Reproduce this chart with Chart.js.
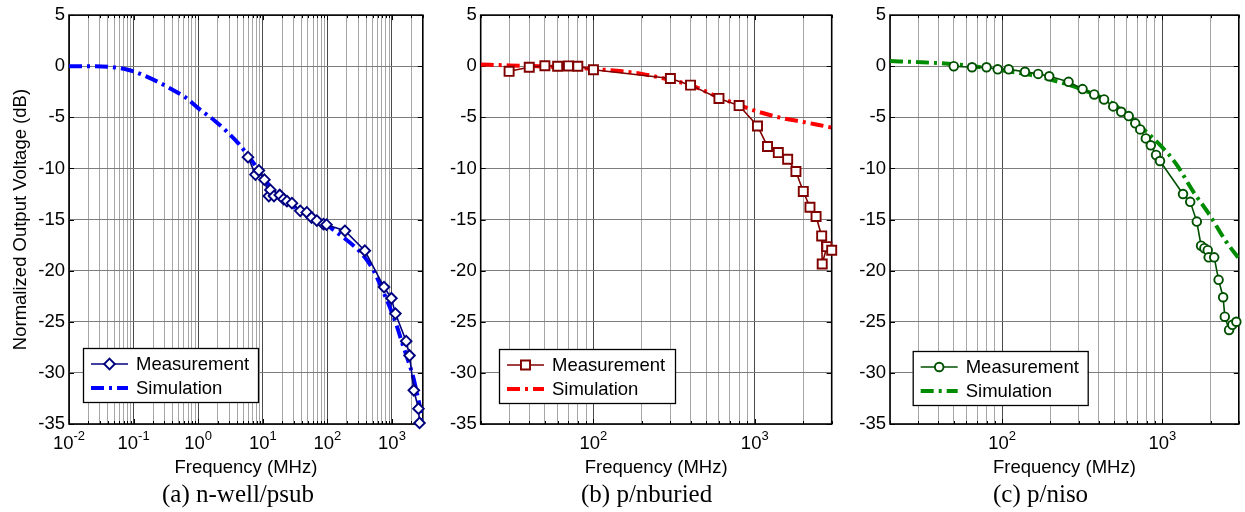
<!DOCTYPE html>
<html>
<head>
<meta charset="utf-8">
<script src="https://cdn.jsdelivr.net/npm/chart.js@4.4.1/dist/chart.umd.min.js"></script>
<style>
  html, body { margin:0; padding:0; background:#fff; }
  body { width:1245px; height:512px; position:relative; overflow:hidden; }
  canvas { position:absolute; top:0; }
  .cap { position:absolute; top:479px; font-family:"Liberation Serif","Times New Roman",serif; font-size:25px; line-height:29px; color:#000; white-space:nowrap; }
</style>
</head>
<body>
<canvas id="ca" width="430" height="512" style="left:0px"></canvas>
<canvas id="cb" width="410" height="512" style="left:430px"></canvas>
<canvas id="cc" width="405" height="512" style="left:840px"></canvas>
<div class="cap" style="left:162px">(a) n-well/psub</div>
<div class="cap" style="left:581px">(b) p/nburied</div>
<div class="cap" style="left:993px">(c) p/niso</div>
<script>
// ---------------- data ----------------
// (a) n-well/psub
const freqA = [5.9, 7.7, 8.7, 10.6, 12.4, 13.1, 14.9, 18.3, 21, 23.7, 28.3, 38, 48, 57, 68.6, 87, 97, 187, 380, 753, 980, 1130, 1660, 1870, 2180, 2570, 2670];
const measA = [-8.9, -10.6, -10.2, -11.1, -12.7, -12.1, -12.7, -12.6, -13.0, -13.2, -13.4, -14.15, -14.3, -14.8, -15.1, -15.45, -15.5, -16.1, -18.05, -21.6, -22.7, -24.2, -26.9, -28.3, -31.7, -33.5, -34.9];
const simFreqA = [0.01, 0.02, 0.04, 0.07, 0.1, 0.15, 0.25, 0.4, 0.65, 1, 1.86, 3, 4.26, 6, 8.7, 12, 15.7, 25, 35.5, 60, 91, 150, 190, 270, 380, 520, 680, 970, 1200, 1460, 1800, 2130, 2400, 2700, 3000];
const simA = [0, 0, -0.05, -0.25, -0.5, -0.95, -1.6, -2.3, -3.1, -4.1, -5.4, -6.6, -7.6, -8.8, -10.2, -11.5, -12.5, -13.4, -14.0, -14.8, -15.4, -16.4, -16.9, -17.7, -18.7, -20.0, -21.6, -23.9, -25.5, -27.2, -28.9, -30.4, -31.8, -33.3, -35.0];

// (b) p/nburied
const freqB = [30, 40, 50, 60, 70, 80, 100, 300, 400, 600, 800, 1040, 1200, 1400, 1600, 1800, 2000, 2200, 2400, 2600, 2620, 2800, 3000];
const measB = [-0.5, -0.1, 0.05, 0.0, 0.03, 0.0, -0.35, -1.2, -1.85, -3.15, -3.85, -5.85, -7.85, -8.45, -9.1, -10.3, -12.25, -13.8, -14.7, -16.6, -19.35, -17.65, -18.0];
const simFreqB = [20, 30, 50, 70, 100, 150, 200, 300, 400, 600, 800, 1000, 1500, 2000, 2500, 3000];
const simB = [0.17, 0.08, -0.02, -0.12, -0.27, -0.5, -0.75, -1.35, -1.85, -3.05, -3.8, -4.35, -5.1, -5.45, -5.75, -6.0];

// (c) p/niso
const freqC = [50, 65, 80, 94, 110, 139, 168, 197, 260, 318, 376, 433, 494, 554, 617, 678, 728, 789, 847, 914, 967, 1346, 1493, 1641, 1745, 1830, 1920, 1945, 2107, 2244, 2395, 2453, 2609, 2734, 2896];
const measC = [0.0, -0.1, -0.1, -0.3, -0.3, -0.55, -0.75, -0.98, -1.53, -2.24, -2.76, -3.25, -3.93, -4.46, -4.88, -5.59, -6.18, -7.06, -7.74, -8.68, -9.27, -12.5, -13.27, -15.2, -17.56, -17.8, -18.0, -18.7, -18.7, -20.9, -22.6, -24.5, -25.8, -25.3, -25.0];
const simFreqC = [20, 30, 50, 70, 110, 150, 200, 318, 494, 728, 967, 1225, 1549, 1963, 2489, 3000];
const simC = [0.5, 0.4, 0.2, -0.05, -0.5, -0.85, -1.3, -2.3, -3.7, -5.9, -7.7, -9.6, -12.2, -14.5, -17.1, -18.8];

// axis tick labels
const decadesA = [0.01, 0.1, 1, 10, 100, 1000];
const expLabelsA = ['-2', '-1', '0', '1', '2', '3'];
const decadesBC = [100, 1000];
const expLabelsBC = ['2', '3'];
const yTickStep = 5;
const yMin = -35, yMax = 5;

// ---------------- helpers ----------------
const FONT = '"Liberation Sans", Arial, Helvetica, sans-serif';
function isDecade(v) { const l = Math.log10(v); return Math.abs(l - Math.round(l)) < 1e-6; }
function logGrid(min, max) {
  const out = [];
  for (let e = -3; e <= 4; e++) for (let m = 1; m <= 9; m++) {
    const v = +(m * Math.pow(10, e)).toPrecision(6);
    if (v >= min * 0.9999 && v <= max * 1.0001) out.push(v);
  }
  return out;
}
function pts(xs, ys) { return xs.map((x, i) => ({ x: x, y: ys[i] })); }

function drawMarker(ctx, style, r, x, y) {
  ctx.beginPath();
  if (style === 'rectRot') {
    ctx.moveTo(x, y - r); ctx.lineTo(x + r, y); ctx.lineTo(x, y + r); ctx.lineTo(x - r, y); ctx.closePath();
  } else if (style === 'rect') {
    const s = r * Math.SQRT1_2; ctx.rect(x - s, y - s, 2 * s, 2 * s);
  } else {
    ctx.arc(x, y, r, 0, Math.PI * 2);
  }
  ctx.fill(); ctx.stroke();
}

const framePlugin = {
  id: 'frame',
  beforeDatasetsDraw(chart) {
    const { ctx, chartArea: a, scales: { x, y } } = chart;
    ctx.save();
    ctx.strokeStyle = '#000';
    ctx.lineWidth = 1;
    ctx.beginPath();
    x.ticks.forEach(t => {
      const px = Math.round(x.getPixelForValue(t.value)) + 0.5;
      const L = isDecade(t.value) ? 5 : 3;
      ctx.moveTo(px, a.bottom); ctx.lineTo(px, a.bottom - L);
      ctx.moveTo(px, a.top); ctx.lineTo(px, a.top + L);
    });
    y.ticks.forEach(t => {
      const py = Math.round(y.getPixelForValue(t.value)) + 0.5;
      ctx.moveTo(a.left, py); ctx.lineTo(a.left + 5, py);
      ctx.moveTo(a.right, py); ctx.lineTo(a.right - 5, py);
    });
    ctx.stroke();
    ctx.lineWidth = 1.6;
    ctx.strokeRect(a.left, a.top, a.right - a.left, a.bottom - a.top);
    ctx.restore();
  },
  afterDraw(chart, args, opts) {
    const { ctx, chartArea: a, scales: { x } } = chart;
    ctx.save();
    // x tick labels 10^n
    ctx.fillStyle = '#000';
    ctx.textBaseline = 'middle';
    ctx.textAlign = 'left';
    opts.decades.forEach((v, i) => {
      const px = x.getPixelForValue(v);
      ctx.font = '18.5px ' + FONT;
      const wb = ctx.measureText('10').width;
      ctx.font = '13px ' + FONT;
      const we = ctx.measureText(opts.exps[i]).width;
      const x0 = px - (wb + we) / 2;
      ctx.font = '18.5px ' + FONT;
      ctx.fillText('10', x0, a.bottom + 19.5);
      ctx.font = '13px ' + FONT;
      ctx.fillText(opts.exps[i], x0 + wb, a.bottom + 12.5);
    });
    // legend box
    const L = opts.legend;
    const bx = a.left + L.dx, by = a.bottom - L.dy;
    ctx.fillStyle = '#fff';
    ctx.fillRect(bx, by, L.w, L.h);
    ctx.strokeStyle = '#000';
    ctx.lineWidth = 1.3;
    ctx.strokeRect(bx + 0.5, by + 0.5, L.w, L.h);
    chart.data.datasets.forEach((ds, i) => {
      const ry = by + 16 + i * 24;
      ctx.save();
      ctx.strokeStyle = ds.borderColor;
      ctx.lineWidth = ds.borderWidth;
      ctx.setLineDash(ds.borderDash || []);
      ctx.beginPath();
      ctx.moveTo(bx + 8, ry); ctx.lineTo(bx + 45, ry);
      ctx.stroke();
      ctx.setLineDash([]);
      if (ds.pointRadius > 0) {
        ctx.fillStyle = ds.pointBackgroundColor;
        ctx.strokeStyle = ds.pointBorderColor;
        ctx.lineWidth = ds.pointBorderWidth;
        drawMarker(ctx, ds.pointStyle, ds.pointRadius, bx + 26.5, ry);
      }
      ctx.restore();
      ctx.fillStyle = '#000';
      ctx.font = '18.5px ' + FONT;
      ctx.textBaseline = 'middle';
      ctx.textAlign = 'left';
      ctx.fillText(ds.label, bx + 53, ry + 1);
    });
    ctx.restore();
  }
};

function makeChart(id, cfg) {
  const gridVals = logGrid(cfg.xmin, cfg.xmax);
  return new Chart(document.getElementById(id), {
    type: 'line',
    data: {
      datasets: [
        {
          label: 'Measurement',
          data: pts(cfg.mf, cfg.mv),
          borderColor: cfg.mColor,
          borderWidth: 1.6,
          pointStyle: cfg.marker,
          pointRadius: cfg.markerR,
          pointBorderWidth: 1.9,
          pointBackgroundColor: '#fff',
          pointBorderColor: cfg.mColor,
          tension: 0,
          clip: false,
          order: 1
        },
        {
          label: 'Simulation',
          data: pts(cfg.sf, cfg.sv),
          borderColor: cfg.sColor,
          borderWidth: 4,
          borderDash: [13, 5, 3, 5],
          borderCapStyle: 'butt',
          pointRadius: 0,
          cubicInterpolationMode: 'monotone',
          order: 2
        }
      ]
    },
    options: {
      responsive: false,
      animation: false,
      devicePixelRatio: 1,
      layout: { padding: { top: 14, right: cfg.padRight, bottom: 32, left: 0 } },
      scales: {
        x: {
          type: 'logarithmic',
          min: cfg.xmin, max: cfg.xmax,
          afterBuildTicks: s => { s.ticks = gridVals.map(v => ({ value: v, major: isDecade(v) })); },
          afterFit: s => { s.height = 56; },
          ticks: { display: false, autoSkip: false },
          grid: { color: c => (c.tick && isDecade(c.tick.value)) ? '#4a4a4a' : '#a6a6a6', drawTicks: false, lineWidth: 1 },
          border: { display: false },
          title: { display: true, text: 'Frequency (MHz)', color: '#000', font: { family: FONT, size: 18.5 }, padding: { top: 0, bottom: 1 } }
        },
        y: {
          type: 'linear',
          min: yMin, max: yMax,
          afterFit: s => { s.width = cfg.yWidth; },
          ticks: { stepSize: yTickStep, color: '#000', font: { family: FONT, size: 18.5 }, padding: 4 },
          grid: { color: '#7c7c7c', drawTicks: false, lineWidth: 1 },
          border: { display: false },
          title: { display: cfg.yTitle, text: 'Normalized Output Voltage (dB)', color: '#000', font: { family: FONT, size: 18.5 }, padding: { top: 10, bottom: 0 } }
        }
      },
      plugins: {
        legend: { display: false },
        tooltip: { enabled: false },
        frame: { decades: cfg.decades, exps: cfg.exps, legend: cfg.legend }
      }
    },
    plugins: [framePlugin]
  });
}

makeChart('ca', {
  xmin: 0.01, xmax: 3000, yWidth: 69, padRight: 7, yTitle: true,
  mf: freqA, mv: measA, sf: simFreqA, sv: simA,
  mColor: '#00007f', sColor: '#0000ff', marker: 'rectRot', markerR: 5.3,
  decades: decadesA, exps: expLabelsA,
  legend: { dx: 14, dy: 76, w: 175, h: 54 }
});
makeChart('cb', {
  xmin: 20, xmax: 3000, yWidth: 50.7, padRight: 6.7, yTitle: false,
  mf: freqB, mv: measB, sf: simFreqB, sv: simB,
  mColor: '#800000', sColor: '#ff0000', marker: 'rect', markerR: 6.4,
  decades: decadesBC, exps: expLabelsBC,
  legend: { dx: 18.3, dy: 75, w: 176, h: 54 }
});
makeChart('cc', {
  xmin: 20, xmax: 3000, yWidth: 50, padRight: 1.7, yTitle: false,
  mf: freqC, mv: measC, sf: simFreqC, sv: simC,
  mColor: '#005000', sColor: '#008c00', marker: 'circle', markerR: 4.3,
  decades: decadesBC, exps: expLabelsBC,
  legend: { dx: 22.7, dy: 73, w: 175, h: 54 }
});
</script>
</body>
</html>
